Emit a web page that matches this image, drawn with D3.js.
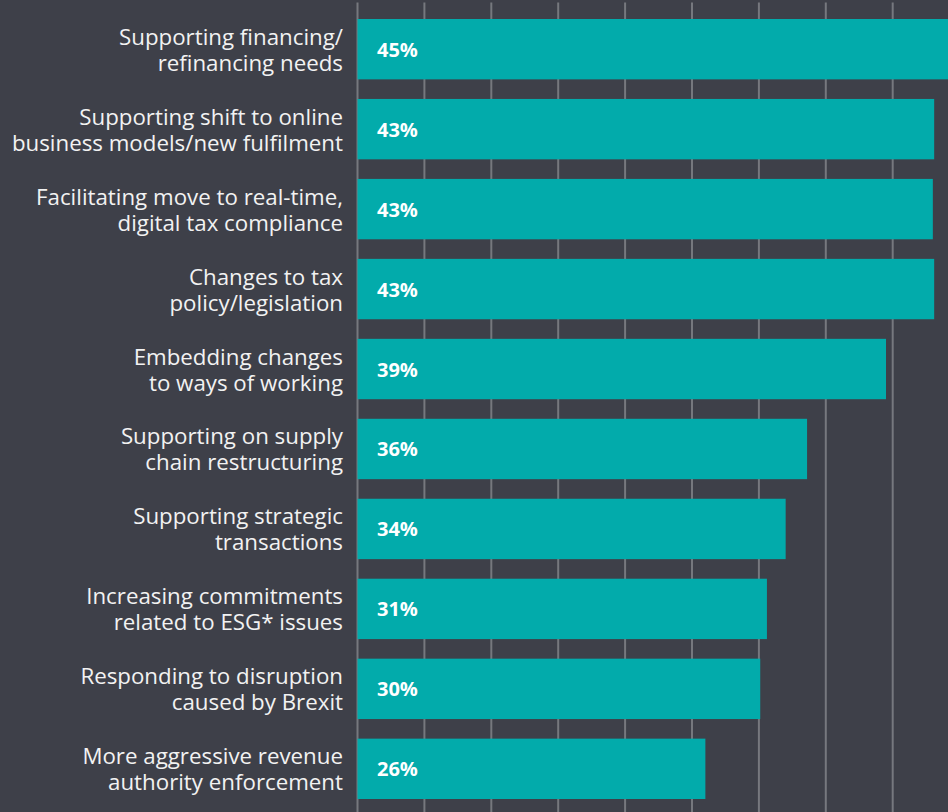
<!DOCTYPE html>
<html>
<head>
<meta charset="utf-8">
<script src="https://cdn.jsdelivr.net/npm/d3@7"></script>
<style>
  html, body { margin: 0; padding: 0; background: #3e4049; }
  svg { display: block; }
</style>
</head>
<body>
<svg id="chart" width="948" height="812"></svg>
<script>
// categories, top to bottom (two lines each)
const categories = [
  ["Supporting financing/", "refinancing needs"],
  ["Supporting shift to online", "business models/new fulfilment"],
  ["Facilitating move to real-time,", "digital tax compliance"],
  ["Changes to tax", "policy/legislation"],
  ["Embedding changes", "to ways of working"],
  ["Supporting on supply", "chain restructuring"],
  ["Supporting strategic", "transactions"],
  ["Increasing commitments", "related to ESG* issues"],
  ["Responding to disruption", "caused by Brexit"],
  ["More aggressive revenue", "authority enforcement"]
];

// printed values
const labels = [45, 43, 43, 43, 39, 36, 34, 31, 30, 26];

// bar lengths as drawn, read against the 5-point grid
const barLengths = [45, 43.1, 43.0, 43.1, 39.5, 33.6, 32.0, 30.6, 30.1, 26.0];

// grid every 5 points
const gridTicks = [0, 5, 10, 15, 20, 25, 30, 35, 40];

let svg = d3.select("#chart");

let x = d3.scaleLinear()
          .domain([0, 45])
          .range([357.5, 959.6]);

let y = d3.scaleBand()
          .domain(d3.range(categories.length))
          .range([9, 809])
          .paddingInner(0.245)
          .paddingOuter(0.125);

// vertical grid lines, behind the bars
svg.append('g')
   .attr('class', 'grid')
   .selectAll('line')
   .data(gridTicks)
   .enter()
   .append('line')
     .attr('x1', d => x(d))
     .attr('x2', d => x(d))
     .attr('y1', 2.5)
     .attr('y2', 812)
     .attr('stroke', '#76787e')
     .attr('stroke-width', 2);

// bars
svg.append('g')
   .attr('class', 'bars')
   .selectAll('rect')
   .data(barLengths)
   .enter()
   .append('rect')
     .attr('x', x(0))
     .attr('y', (d, i) => y(i))
     .attr('width', d => x(d) - x(0))
     .attr('height', y.bandwidth())
     .attr('fill', '#02abab');

// value labels inside the bars
svg.append('g')
   .attr('class', 'values')
   .selectAll('text')
   .data(labels)
   .enter()
   .append('text')
     .attr('x', x(0) + 19.5)
     .attr('y', (d, i) => y(i) + y.bandwidth() / 2 + 7.5)
     .attr('fill', '#ffffff')
     .attr('font-family', '"Open Sans", sans-serif')
     .attr('font-weight', 'bold')
     .attr('font-size', '20px')
     .text(d => d + '%');

// category labels, right aligned to the left of the bars
let cats = svg.append('g')
   .attr('class', 'categories')
   .selectAll('text')
   .data(categories)
   .enter()
   .append('text')
     .attr('text-anchor', 'end')
     .attr('fill', '#f2f2f2')
     .attr('font-family', '"Open Sans", sans-serif')
     .attr('font-size', '22.3px');

cats.selectAll('tspan')
    .data((d, i) => d.map(line => ({ line, i })))
    .enter()
    .append('tspan')
      .attr('x', 343)
      .attr('y', (d, j) => y(d.i) + y.bandwidth() / 2 - 4.5 + j * 26)
      .text(d => d.line);
</script>
</body>
</html>
